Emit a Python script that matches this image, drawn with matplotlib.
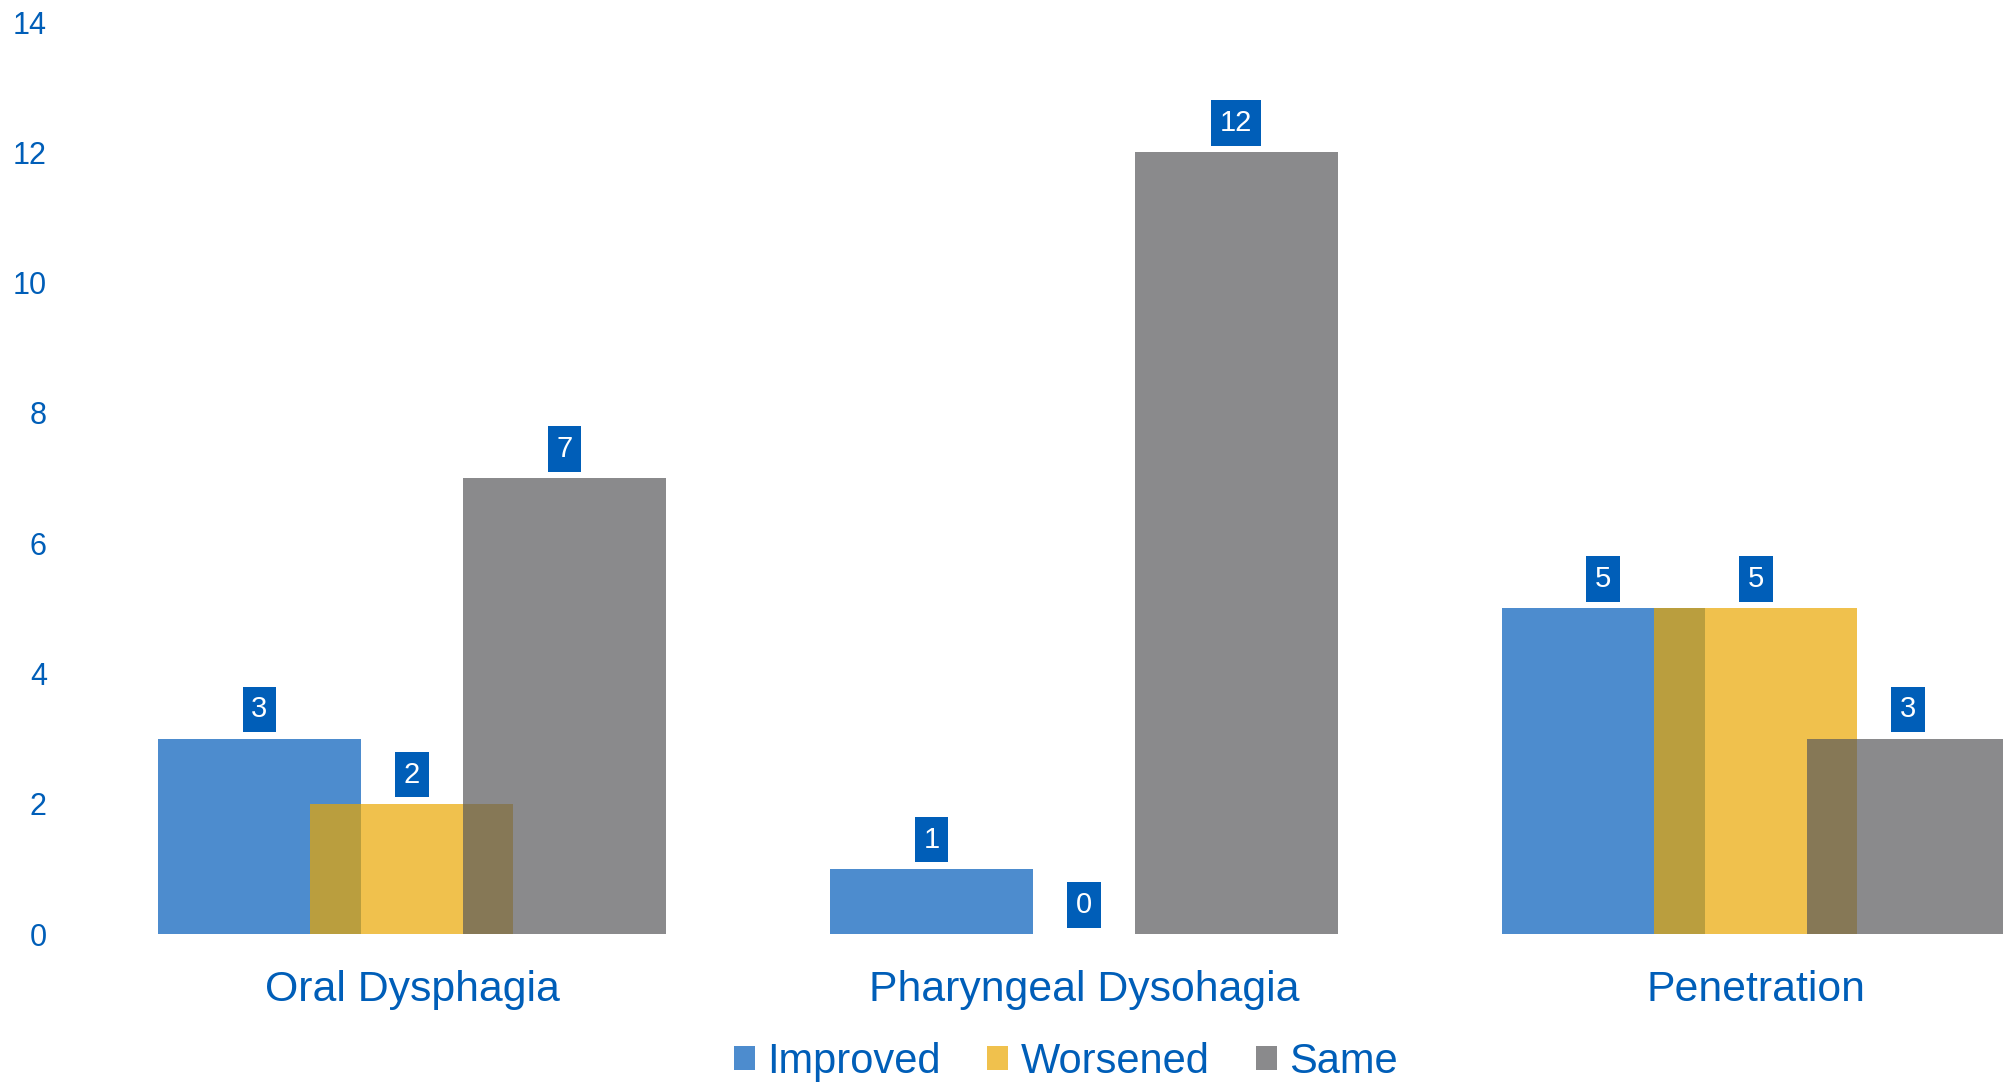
import matplotlib
matplotlib.use('Agg')
import matplotlib.pyplot as plt
import numpy as np

# Data
categories = ['Oral Dysphagia', 'Pharyngeal Dysohagia', 'Penetration']
series = ['Improved', 'Worsened', 'Same']
improved = [3, 1, 5]
worsened = [2, 0, 5]
same = [7, 12, 3]
values = [improved, worsened, same]
y_ticks = [0, 2, 4, 6, 8, 10, 12, 14]

# Base colours, drawn with transparency so overlaps blend
colors = ['#025BBA', '#EAA701', '#59595B']
alpha = 0.7
text_blue = '#005EB8'

plt.rcParams['font.family'] = ['Liberation Sans', 'DejaVu Sans']

fig = plt.figure(figsize=(20.03, 10.83), dpi=100)
ax = fig.add_axes([76 / 2003, 1 - 934 / 1083, (2003 - 76) / 2003, (934 - 22) / 1083])

x = np.arange(len(categories))
offsets = [-0.227, 0, 0.227]
width = 0.302

bars = []
for vals, off, col, name in zip(values, offsets, colors, series):
    b = ax.bar(x + off, vals, width, color=col, alpha=alpha, label=name, linewidth=0)
    bars.append(b)

# Data labels in blue boxes
for vals, off in zip(values, offsets):
    for xi, v in zip(x, vals):
        ax.annotate(str(v), (xi + off, v), xytext=(0, 21), textcoords='offset points',
                    ha='center', va='center', color='white', fontsize=21,
                    bbox=dict(boxstyle='square,pad=0.3', fc=text_blue, ec='none'))

ax.set_xlim(-0.5, 2.368)
ax.set_ylim(0, 14)
ax.set_yticks(y_ticks)
ax.set_xticks(x)
ax.set_xticklabels(categories)
ax.tick_params(axis='y', length=0, pad=21, labelsize=22, labelcolor=text_blue)
ax.tick_params(axis='x', length=0, pad=26, labelsize=30.8, labelcolor=text_blue)
for s in ax.spines.values():
    s.set_visible(False)

fig.legend(handles=bars, labels=series, loc='center', bbox_to_anchor=(1066 / 2003, 1 - 1062 / 1083),
           ncol=3, frameon=False, fontsize=30, labelcolor=text_blue,
           handlelength=0.5, handleheight=0.5, handletextpad=0.3, columnspacing=1.12)

plt.savefig('out.png', dpi=100)
